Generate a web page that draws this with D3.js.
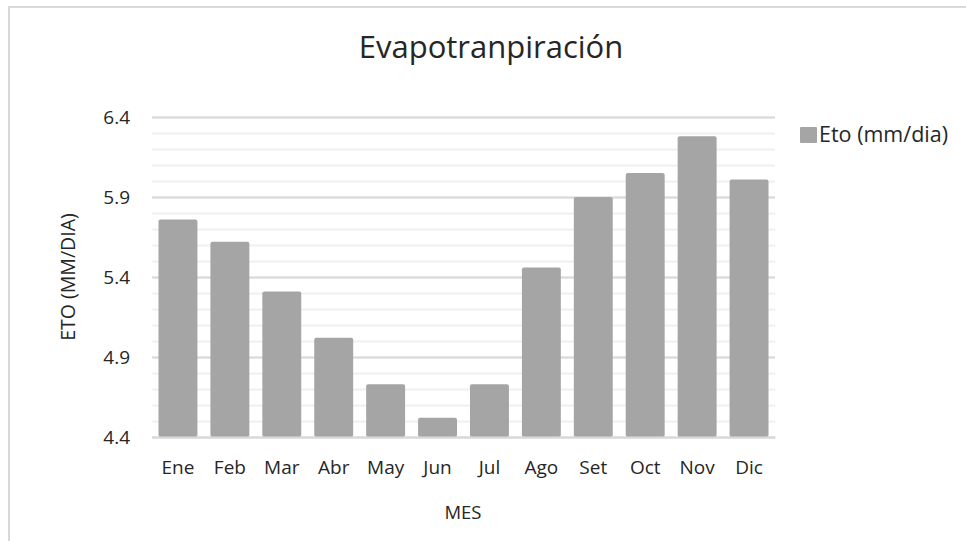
<!DOCTYPE html>
<html lang="es">
<head>
<meta charset="UTF-8">
<title>Evapotranpiración</title>
<style>
  body { margin: 0; background: #fff; }
  text { font-family: "Open Sans", sans-serif; fill: #262626; }
</style>
</head>
<body>
<svg id="chart" width="966" height="541"></svg>

<script src="https://d3js.org/d3.v7.min.js"></script>
<script>
// datos
var meses = ["Ene", "Feb", "Mar", "Abr", "May", "Jun", "Jul", "Ago", "Set", "Oct", "Nov", "Dic"];
var eto = [5.76, 5.62, 5.31, 5.02, 4.73, 4.52, 4.73, 5.46, 5.90, 6.05, 6.28, 6.01];
var ticksY = [4.4, 4.9, 5.4, 5.9, 6.4];
var serie = "Eto (mm/dia)";

var svg = d3.select("#chart"),
    izq = 152, der = 775, arriba = 117, abajo = 437;

var x = d3.scaleBand().domain(meses).range([izq, der]).paddingInner(0.25).paddingOuter(0.125);
var y = d3.scaleLinear().domain([4.4, 6.4]).range([abajo, arriba]);

// borde del area del grafico
svg.append("rect")
  .attr("x", 9).attr("y", 7).attr("width", 980).attr("height", 560)
  .attr("fill", "none").attr("stroke", "#d9d9d9").attr("stroke-width", 2);

// lineas de division secundarias
var menores = d3.range(0, 21).map(function(i) { return 4.4 + i * 0.1; });
svg.append("g").selectAll("line").data(menores).join("line")
  .attr("x1", izq).attr("x2", der)
  .attr("y1", function(d) { return Math.round(y(d)) + 0.5; })
  .attr("y2", function(d) { return Math.round(y(d)) + 0.5; })
  .attr("stroke", "#f0f0f0").attr("stroke-width", 2);

// eje y con lineas principales
var ejeY = svg.append("g")
  .attr("transform", "translate(" + izq + ",0)")
  .call(d3.axisLeft(y).tickValues(ticksY).tickFormat(d3.format(".1f")).tickSize(-(der - izq)).tickPadding(22));
ejeY.select(".domain").remove();
ejeY.selectAll(".tick line").attr("stroke", "#d9d9d9").attr("stroke-width", 2);
ejeY.selectAll(".tick text").attr("font-size", 19).attr("fill", "#262626")
  .attr("font-family", "'Open Sans', sans-serif");

// barras
svg.append("g").selectAll("rect").data(eto).join("rect")
  .attr("x", function(d, i) { return x(meses[i]); })
  .attr("y", function(d) { return y(d); })
  .attr("width", x.bandwidth())
  .attr("height", function(d) { return abajo - y(d); })
  .attr("rx", 2)
  .attr("fill", "#a5a5a5");

// eje x
var ejeX = svg.append("g")
  .attr("transform", "translate(0," + abajo + ")")
  .call(d3.axisBottom(x).tickSize(0).tickPadding(24));
ejeX.select(".domain").attr("stroke", "#d9d9d9").attr("stroke-width", 2);
ejeX.selectAll(".tick text").attr("font-size", 19).attr("fill", "#262626")
  .attr("font-family", "'Open Sans', sans-serif");

// titulos
svg.append("text")
  .attr("x", 491).attr("y", 58)
  .attr("text-anchor", "middle").attr("font-size", 31)
  .attr("fill", "#0d0d0d")
  .text("Evapotranpiración");

svg.append("text")
  .attr("x", 463).attr("y", 519)
  .attr("text-anchor", "middle").attr("font-size", 18.5)
  .text("MES");

svg.append("text")
  .attr("transform", "translate(75,277) rotate(-90)")
  .attr("text-anchor", "middle").attr("font-size", 19.5)
  .text("ETO (MM/DIA)");

// leyenda
svg.append("rect")
  .attr("x", 800).attr("y", 127).attr("width", 17).attr("height", 16)
  .attr("rx", 1).attr("fill", "#a5a5a5");
svg.append("text")
  .attr("x", 819).attr("y", 142).attr("font-size", 21.5)
  .text(serie);
</script>
</body>
</html>
